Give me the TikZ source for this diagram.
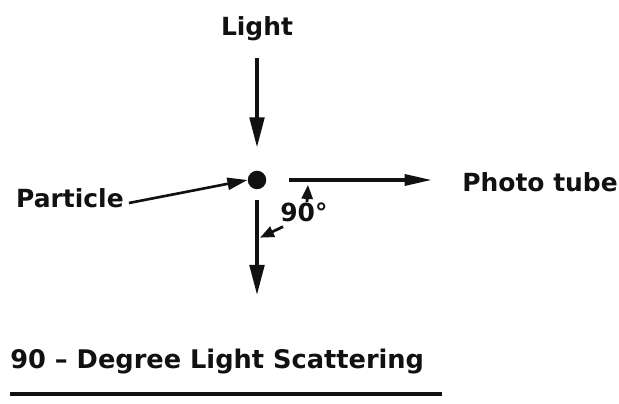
\documentclass[tikz,border=0pt]{standalone}
\usepackage{fontspec}
\setmainfont{DejaVu Sans}
\usetikzlibrary{positioning,arrows.meta,calc}
\definecolor{ink}{HTML}{111111}
\tikzset{
  lbl/.style={font=\fontsize{14.2}{17}\selectfont\bfseries,text=ink,inner sep=0pt},
  dotnode/.style={circle,fill=ink,minimum size=3.7mm,inner sep=0pt},
  ray/.style={-{Triangle[length=6mm,width=2.9mm]},draw=ink,line width=2pt},
  thinray/.style={-{Triangle[length=5.5mm,width=2.2mm]},draw=ink,line width=2pt},
  tickray/.style={-{Triangle[length=2.8mm,width=2.2mm]},draw=ink,line width=1.6pt}}

\begin{document}
\begin{tikzpicture}[x=0.02cm,y=-0.02cm]
  \useasboundingbox (0,0) rectangle (619,404);
  % particle and the three labels round it
  \node[dotnode] (dot) at (257,180) {};
  \node[lbl,anchor=base] (light) at (257,36) {Light};
  \node[lbl,anchor=base east] (particle) at (124,208) {Particle};
  \node[lbl,anchor=base west] (tube) at (462,192) {Photo tube};
  \node[lbl,anchor=base west] (angle) at (280,222) {90°};
  \coordinate (down) at (257,295);
  % beams
  \draw[ray,shorten <=3.2mm,shorten >=4.6mm] (light.south) -- (dot.north);
  \draw[ray,shorten <=2mm] (dot.south) -- (down);
  \draw[thinray,shorten <=4.4mm,shorten >=6mm] (dot.east) -- (tube.west |- dot.east);
  \draw[ray,-{Triangle[length=4mm,width=2.4mm]},line width=1.5pt,shorten <=1mm] ([yshift=-3pt]particle.east) -- (dot.west);
  % angle marks
  \draw[tickray] (angle.north west) ++(27,-1) -- ++(1,-17);
  \draw[tickray] (angle.south west) ++(3,4) -- ++(-23,11);
  % caption
  \node[lbl,font=\fontsize{14.6}{18}\selectfont\bfseries,anchor=base west] (title) at (10,369) {90 – Degree Light Scattering};
  \draw[ink,line width=2.2pt] (title.south west) ++(0,19) coordinate (ul) -- ([xshift=10]ul -| title.south east);
\end{tikzpicture}
\end{document}
